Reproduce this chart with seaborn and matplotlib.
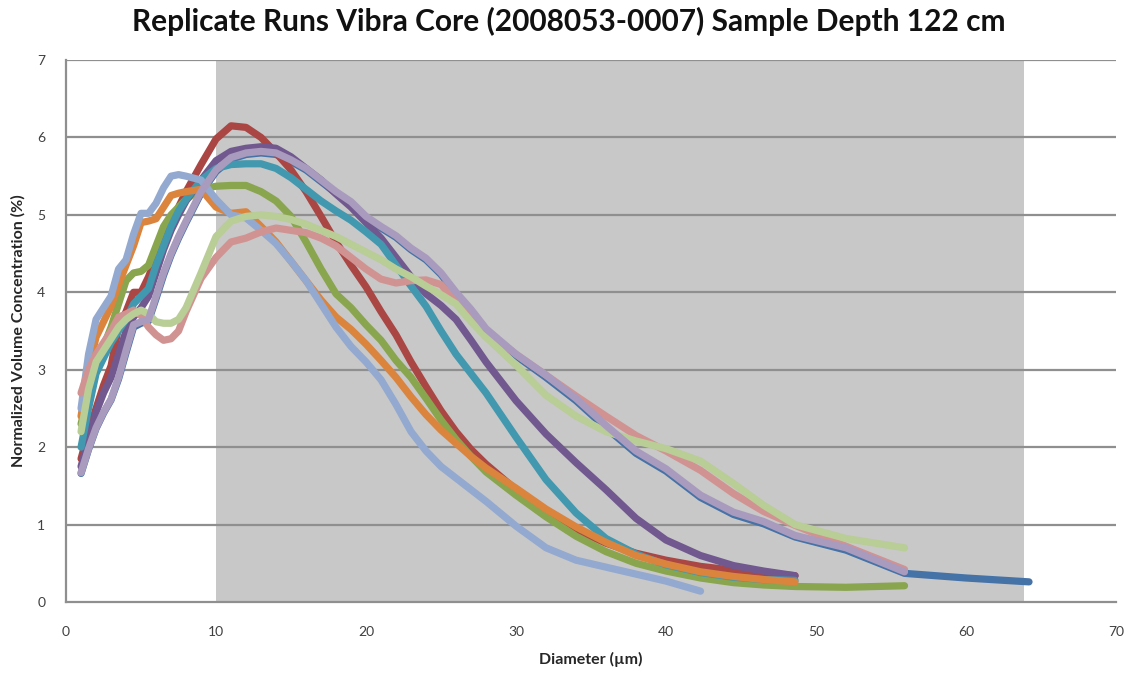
import numpy as np
import pandas as pd
import matplotlib
matplotlib.use("Agg")
import matplotlib.pyplot as plt
import seaborn as sns

# Particle diameter bins (µm)
diameter = [1.0, 1.5, 2.0, 2.5, 3.0, 3.5, 4.0, 4.5, 5.0, 5.5, 6.0, 6.5, 7.0, 7.5, 8.0,
            9.0, 10.0, 11.0, 12.0, 13.0, 14.0, 15.0, 16.0, 17.0, 18.0, 19.0, 20.0,
            21.0, 22.0, 23.0, 24.0, 25.0, 26.0, 27.0, 28.0, 30.0, 32.0, 34.0, 36.0,
            38.0, 40.0, 42.3, 44.5, 46.5, 48.6, 52.0, 55.9, 60.0, 64.2]

# Normalized volume concentration (%) for each replicate run
run_01 = [1.66, 1.97, 2.24, 2.44, 2.61, 2.88, 3.22, 3.55, 3.6, 3.63, 3.92, 4.22, 4.48, 4.7, 4.9,
          5.28, 5.56, 5.72, 5.78, 5.8, 5.78, 5.69, 5.58, 5.43, 5.28, 5.15, 4.96,
          4.83, 4.71, 4.55, 4.42, 4.23, 3.98, 3.76, 3.51, 3.18, 2.9, 2.6, 2.25,
          1.92, 1.69, 1.35, 1.13, 1.01, 0.84, 0.67, 0.37, 0.31, 0.26]
run_02 = [1.85, 2.2, 2.5, 2.8, 3.05, 3.55, 3.75, 4.0, 4.0, 4.2, 4.45, 4.7, 4.9, 5.1, 5.3,
          5.65, 5.98, 6.15, 6.13, 6.0, 5.8, 5.58, 5.3, 4.98, 4.65, 4.35, 4.07,
          3.75, 3.45, 3.1, 2.78, 2.47, 2.2, 1.97, 1.78, 1.45, 1.15, 0.93, 0.76,
          0.63, 0.54, 0.46, 0.41, 0.37, 0.34]
run_03 = [2.3, 2.7, 3.05, 3.3, 3.55, 3.85, 4.15, 4.25, 4.27, 4.35, 4.6, 4.85, 5.0, 5.1, 5.2,
          5.33, 5.37, 5.38, 5.38, 5.3, 5.18, 4.98, 4.65, 4.3, 3.98, 3.8, 3.58,
          3.38, 3.12, 2.9, 2.63, 2.35, 2.1, 1.88, 1.68, 1.38, 1.1, 0.85, 0.65,
          0.5, 0.4, 0.31, 0.25, 0.22, 0.2, 0.19, 0.21]
run_04 = [1.75, 2.1, 2.45, 2.7, 2.9, 3.2, 3.5, 3.68, 3.8, 3.95, 4.25, 4.55, 4.8, 5.0, 5.18,
          5.45, 5.7, 5.82, 5.86, 5.88, 5.86, 5.75, 5.6, 5.45, 5.27, 5.1, 4.9,
          4.7, 4.45, 4.2, 3.98, 3.83, 3.65, 3.38, 3.1, 2.6, 2.17, 1.8, 1.45,
          1.08, 0.8, 0.6, 0.47, 0.4, 0.34]
run_05 = [2.0, 2.5, 2.95, 3.15, 3.35, 3.5, 3.65, 3.85, 3.95, 4.05, 4.35, 4.6, 4.85, 5.05, 5.2,
          5.45, 5.6, 5.65, 5.66, 5.66, 5.6, 5.48, 5.33, 5.18, 5.05, 4.93, 4.78,
          4.62, 4.35, 4.08, 3.82, 3.5, 3.2, 2.95, 2.7, 2.13, 1.58, 1.15, 0.82,
          0.62, 0.48, 0.38, 0.32, 0.29, 0.28]
run_06 = [2.4, 3.0, 3.42, 3.62, 3.82, 4.1, 4.35, 4.6, 4.9, 4.92, 4.95, 5.1, 5.25, 5.28, 5.3,
          5.33, 5.1, 5.02, 5.04, 4.85, 4.65, 4.4, 4.15, 3.9, 3.68, 3.52, 3.33,
          3.12, 2.9, 2.65, 2.42, 2.22, 2.05, 1.88, 1.73, 1.47, 1.2, 0.97, 0.77,
          0.6, 0.49, 0.39, 0.33, 0.29, 0.26]
run_07 = [2.5, 3.2, 3.65, 3.8, 3.95, 4.3, 4.42, 4.75, 5.02, 5.02, 5.15, 5.35, 5.5, 5.52, 5.5,
          5.45, 5.2, 5.0, 4.96, 4.8, 4.63, 4.4, 4.15, 3.85, 3.55, 3.3, 3.1,
          2.87, 2.55, 2.2, 1.95, 1.75, 1.6, 1.45, 1.3, 0.98, 0.7, 0.54, 0.45,
          0.36, 0.27, 0.14]
run_08 = [2.7, 3.0, 3.2, 3.35, 3.5, 3.68, 3.72, 3.77, 3.7, 3.55, 3.45, 3.38, 3.4, 3.5, 3.75,
          4.18, 4.45, 4.65, 4.7, 4.78, 4.83, 4.8, 4.77, 4.7, 4.6, 4.45, 4.3,
          4.17, 4.12, 4.15, 4.16, 4.1, 3.88, 3.68, 3.5, 3.2, 2.93, 2.66, 2.4,
          2.15, 1.95, 1.7, 1.4, 1.17, 0.99, 0.72, 0.42]
run_09 = [2.2, 2.75, 3.1, 3.25, 3.4, 3.55, 3.65, 3.72, 3.77, 3.72, 3.62, 3.6, 3.6, 3.65, 3.8,
          4.25, 4.72, 4.92, 4.98, 5.0, 4.98, 4.94, 4.88, 4.8, 4.72, 4.62, 4.52,
          4.42, 4.3, 4.2, 4.08, 3.97, 3.85, 3.62, 3.42, 3.06, 2.67, 2.4, 2.2,
          2.08, 1.98, 1.82, 1.53, 1.25, 1.0, 0.82, 0.7]
run_10 = [1.67, 1.98, 2.25, 2.45, 2.62, 2.9, 3.25, 3.58, 3.62, 3.65, 3.95, 4.25, 4.5, 4.72, 4.92,
          5.3, 5.58, 5.74, 5.8, 5.82, 5.8, 5.71, 5.6, 5.45, 5.3, 5.17, 4.98,
          4.85, 4.73, 4.57, 4.44, 4.25, 4.0, 3.78, 3.53, 3.2, 2.93, 2.63, 2.28,
          1.95, 1.72, 1.38, 1.16, 1.04, 0.86, 0.7, 0.39]

runs = {"Run 1": run_01, "Run 2": run_02, "Run 3": run_03, "Run 4": run_04,
        "Run 5": run_05, "Run 6": run_06, "Run 7": run_07, "Run 8": run_08,
        "Run 9": run_09, "Run 10": run_10}

colors = ["#4572A7", "#AA4643", "#89A54E", "#71588F", "#4198AF",
          "#DB843D", "#93A9CF", "#D19392", "#B9CD96", "#A99BBD"]

# Size range highlighted on the chart (µm)
band = (10.0, 63.85)

frames = []
for name, vals in runs.items():
    frames.append(pd.DataFrame({"run": name,
                                "diameter": diameter[:len(vals)],
                                "conc": vals}))
df = pd.concat(frames, ignore_index=True)

sns.set_theme(style="white")
plt.rcParams["font.family"] = ["Lato", "DejaVu Sans"]

fig = plt.figure(figsize=(11.33, 6.79), dpi=100)
ax = fig.add_axes([0.0583, 0.1134, 0.9267, 0.7982])

ax.axvspan(band[0], band[1], color="#c8c8c8", zorder=0, lw=0)
for yv in range(1, 8):
    ax.axhline(yv, color="#8f8f8f", lw=1.6, zorder=1)

sns.lineplot(data=df, x="diameter", y="conc", hue="run",
             hue_order=list(runs.keys()), palette=dict(zip(runs.keys(), colors)),
             sort=False, estimator=None, legend=False, linewidth=5.2,
             solid_capstyle="round", solid_joinstyle="round", ax=ax, zorder=3)

ax.set_xlim(0, 70)
ax.set_ylim(0, 7)
ax.set_xticks(range(0, 71, 10))
ax.set_yticks(range(0, 8))
for side in ("top", "right"):
    ax.spines[side].set_visible(False)
for side in ("left", "bottom"):
    ax.spines[side].set_color("#8f8f8f")
    ax.spines[side].set_linewidth(1.6)
ax.tick_params(axis="both", which="major", length=5, width=1.2, color="#8f8f8f",
               labelsize=10, labelcolor="#404040", direction="out")
ax.tick_params(axis="x", pad=12)
ax.tick_params(axis="y", pad=10)
ax.grid(False)

ax.set_xlabel("Diameter (µm)", fontsize=11.5, fontweight="bold", color="#262626", labelpad=10)
ax.set_ylabel("Normalized Volume Concentration (%)", fontsize=11.5, fontweight="bold",
              color="#262626", labelpad=8)
fig.suptitle("Replicate Runs Vibra Core (2008053-0007) Sample Depth 122 cm",
             x=0.502, y=0.99, fontsize=21.5, fontweight="bold", color="#111111")

fig.savefig("out.png", dpi=100)
